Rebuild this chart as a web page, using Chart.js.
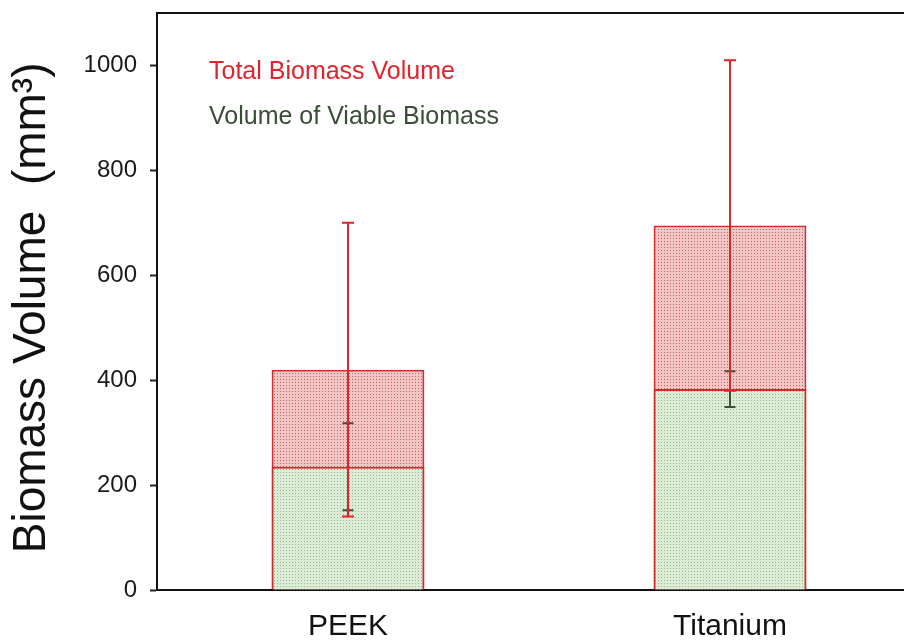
<!DOCTYPE html>
<html>
<head>
<meta charset="utf-8">
<script src="https://cdn.jsdelivr.net/npm/chart.js@4/dist/chart.umd.min.js"></script>
<style>
  html, body { margin: 0; padding: 0; background: #fff; overflow: hidden; }
  canvas { display: block; }
</style>
</head>
<body>
<canvas id="c" width="921" height="642"></canvas>
<script>
// ---- data ----
const categories = ['PEEK', 'Titanium'];
const totalVolume = [420, 695];
const totalErr = [280, 315];
const viableVolume = [235, 383];
const viableErr = [83, 34];
const yTicks = [0, 200, 400, 600, 800, 1000];

const FONT = "'Liberation Sans', Arial, sans-serif";
const canvas = document.getElementById('c');
const ctx0 = canvas.getContext('2d');

// stippled fill like the original
function dotPattern(bg, dot) {
  const c = document.createElement('canvas');
  c.width = 3; c.height = 3;
  const g = c.getContext('2d');
  g.fillStyle = bg; g.fillRect(0, 0, 3, 3);
  g.fillStyle = dot;
  g.fillRect(1, 1, 1, 1);
  return ctx0.createPattern(c, 'repeat');
}
const pinkFill = dotPattern('#f3c6c6', '#c85c5c');
const greenFill = dotPattern('#dcecd7', '#8cba88');

// error bars + in-plot labels + top frame line
const extras = {
  id: 'extras',
  afterDatasetsDraw(chart) {
    const { ctx, chartArea, scales: { x, y } } = chart;
    function errBars(vals, errs, color, cap) {
      ctx.save();
      ctx.strokeStyle = color;
      ctx.lineWidth = 2;
      vals.forEach((v, i) => {
        const px = x.getPixelForValue(i);
        const hi = y.getPixelForValue(v + errs[i]);
        const lo = y.getPixelForValue(v - errs[i]);
        ctx.beginPath();
        ctx.moveTo(px, hi); ctx.lineTo(px, lo);
        ctx.moveTo(px - cap / 2, hi); ctx.lineTo(px + cap / 2, hi);
        ctx.moveTo(px - cap / 2, lo); ctx.lineTo(px + cap / 2, lo);
        ctx.stroke();
      });
      ctx.restore();
    }
    errBars(viableVolume, viableErr, '#3d5236', 11);
    errBars(totalVolume, totalErr, '#e0242a', 12);

    ctx.save();
    ctx.strokeStyle = '#111';
    ctx.lineWidth = 2;
    ctx.beginPath();
    ctx.moveTo(chartArea.left - 1, chartArea.top);
    ctx.lineTo(chart.width, chartArea.top);
    ctx.stroke();

    ctx.font = '25px ' + FONT;
    ctx.textBaseline = 'alphabetic';
    ctx.fillStyle = '#e2232d';
    ctx.fillText('Total Biomass Volume', 209, 79);
    ctx.fillStyle = '#3a4d37';
    ctx.fillText('Volume of Viable Biomass', 209, 124);
    ctx.restore();
  }
};

new Chart(canvas, {
  type: 'bar',
  data: {
    labels: categories,
    datasets: [
      {
        label: 'Volume of Viable Biomass',
        data: viableVolume,
        backgroundColor: greenFill,
        borderColor: '#d02a2c',
        borderWidth: 2,
        grouped: false,
        categoryPercentage: 1,
        barPercentage: 0.4
      },
      {
        label: 'Total Biomass Volume',
        data: totalVolume,
        backgroundColor: pinkFill,
        borderColor: '#d02a2c',
        borderWidth: 2,
        grouped: false,
        categoryPercentage: 1,
        barPercentage: 0.4
      }
    ]
  },
  options: {
    responsive: false,
    animation: false,
    layout: { padding: { top: 13, right: 0, left: 0, bottom: 0 } },
    plugins: {
      legend: { display: false },
      tooltip: { enabled: false }
    },
    scales: {
      x: {
        grid: { display: true, drawOnChartArea: false, drawTicks: false },
        border: { color: '#111', width: 2 },
        ticks: { color: '#111', padding: 19, font: { family: FONT, size: 30 } },
        afterFit(s) { s.height = 52; s.paddingLeft = 0; s.paddingRight = 0; }
      },
      y: {
        min: 0,
        max: 1100,
        grid: { drawOnChartArea: false, color: '#222', tickLength: 7, tickWidth: 2 },
        border: { color: '#111', width: 2 },
        ticks: {
          stepSize: 200, color: '#1a1a1a', padding: 13,
          font: { family: FONT, size: 24 },
          callback: v => String(v)
        },
        afterBuildTicks(s) { s.ticks = yTicks.map(v => ({ value: v })); },
        title: {
          display: true,
          text: 'Biomass Volume  (mm³) ',
          color: '#111',
          font: { family: FONT, size: 46 },
          padding: { top: 5, bottom: 0 }
        },
        afterFit(s) { s.width = 157; s.paddingTop = 0; s.paddingBottom = 0; }
      }
    }
  },
  plugins: [extras]
});
</script>
</body>
</html>
